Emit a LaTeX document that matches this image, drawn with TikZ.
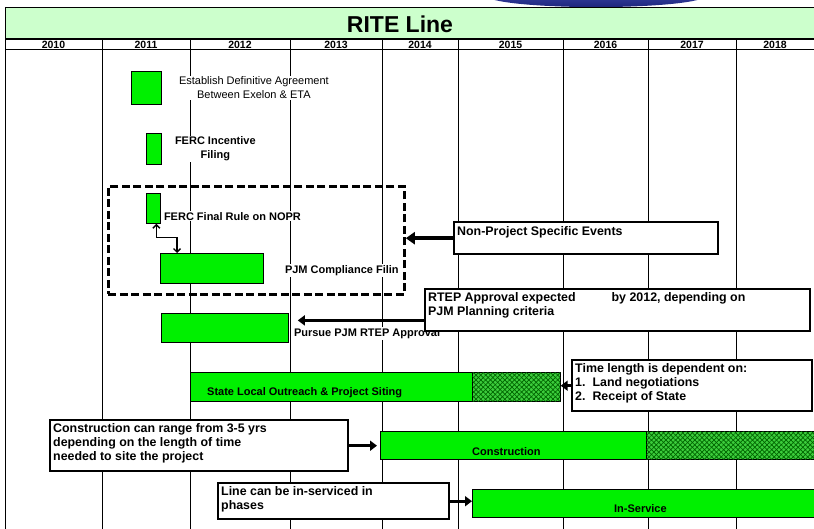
\documentclass[tikz,border=0pt]{standalone}
\usepackage{fontspec}
\setmainfont{Liberation Sans}
\usetikzlibrary{positioning,arrows.meta,patterns.meta}
\definecolor{bargreen}{RGB}{0,240,0}
\definecolor{titlegreen}{RGB}{204,255,204}
\definecolor{hatchbg}{RGB}{60,205,60}
\definecolor{hatchfg}{RGB}{0,100,0}
\definecolor{logoblue}{RGB}{30,38,125}
\definecolor{logolight}{RGB}{70,85,185}
\newcommand{\titlefont}{\fontsize{23}{26}\selectfont\bfseries}
\newcommand{\yearfont}{\fontsize{10.5}{12}\selectfont\bfseries}
\newcommand{\labfont}{\fontsize{11}{14}\selectfont\bfseries}
\newcommand{\regfont}{\fontsize{11}{14}\selectfont}
\newcommand{\boxfont}{\fontsize{12.4}{14.4}\selectfont\bfseries}

\begin{document}
\begin{tikzpicture}[x=1pt,y=-1pt,
    bar/.style={draw,fill=bargreen,line width=0.8pt,inner sep=0pt,anchor=north west},
    hatchbar/.style={draw,line width=0.6pt,inner sep=0pt,anchor=north west,
        preaction={fill=hatchbg},
        pattern={Lines[angle=45,distance=3.4pt,line width=0.7pt]},pattern color=hatchfg,
        postaction={pattern={Lines[angle=-45,distance=3.4pt,line width=0.7pt]},pattern color=hatchfg}},
    notebox/.style={draw,fill=white,line width=2.4pt,inner sep=0pt,anchor=north west},
    notetext/.style={anchor=north west,inner sep=1pt,align=left,font=\boxfont},
    dashframe/.style={draw,line width=2.8pt,dash pattern=on 8pt off 3.5pt,inner sep=0pt,anchor=north west},
    evlabel/.style={fill=white,inner sep=1pt,font=\labfont},
    barlabel/.style={inner sep=0pt,font=\labfont},
    bigarrow/.style={line width=2.8pt,-{Triangle[length=7pt,width=10pt]}},
    gridline/.style={line width=0.8pt}
    ]
    \useasboundingbox (0,0) rectangle (814,529);
    \clip (0,0) rectangle (814,529);

    % logo edge and grid
    \shade[top color=logolight,bottom color=logoblue] (596,-4.5) ellipse [x radius=110pt,y radius=11.6pt];
    \draw[gridline] (5,7) -- (5,529);
    \foreach \gx in {102,190,290,382,458,563,648,736}
        \draw[gridline] (\gx,39) -- (\gx,529);

    % header
    \node[draw,fill=titlegreen,line width=1pt,minimum width=812pt,minimum height=32pt,inner sep=0pt,anchor=north west] (title) at (5,7) {};
    \node[font=\titlefont] (titletxt) at (400,24) {RITE Line};
    \draw[line width=1pt] (5,39) rectangle (816,50);
    \foreach \yr/\cx in {2010/53.5,2011/146,2012/240,2013/336,2014/420,2015/510.5,2016/605.5,2017/692,2018/775}
        \node[font=\yearfont,inner sep=0pt] (y\yr) at (\cx,44.8) {\yr};

    % events
    \node[bar,minimum width=30pt,minimum height=33pt] (agree) at (131,71) {};
    \node[evlabel,font=\regfont,align=center,right=16pt of agree] (agreetxt) {Establish Definitive Agreement\\Between Exelon \& ETA};

    \node[bar,minimum width=15pt,minimum height=31pt] (ferci) at (146,133) {};
    \node[evlabel,align=center,right=12pt of ferci] (fercitxt) {FERC Incentive\\Filing};

    \node[bar,minimum width=14pt,minimum height=30pt] (fercf) at (146,193) {};
    \node[evlabel,right=2pt of fercf,yshift=-8pt] (fercftxt) {FERC Final Rule on NOPR};

    \node[bar,minimum width=103pt,minimum height=30pt] (pjmc) at (160,253) {};
    \node[evlabel,right=20pt of pjmc,yshift=-2pt] (pjmctxt) {PJM Compliance Filin};

    \node[dashframe,minimum width=296pt,minimum height=108pt] (nonproj) at (107,185) {};

    \draw[line width=1.4pt,{Straight Barb[length=3.5pt,width=7pt]}-{Straight Barb[length=3.5pt,width=7pt]}]
        ([xshift=3pt]fercf.south) -- ++(0,14) -| ([xshift=17pt]pjmc.north west);

    \node[bar,minimum width=127pt,minimum height=29pt] (pursue) at (161,313) {};
    \node[evlabel,right=4pt of pursue,yshift=-5.5pt] (pursuetxt) {Pursue PJM RTEP Approval};

    % project phases
    \node[bar,minimum width=282pt,minimum height=29pt] (siting) at (190,372) {};
    \node[hatchbar,minimum width=88pt,minimum height=29pt] (sitingx) at (472,372) {};
    \node[barlabel,anchor=west] (sitingtxt) at ([shift={(17pt,-5.5pt)}]siting.west) {State Local Outreach \& Project Siting};

    \node[bar,minimum width=266pt,minimum height=28pt] (constr) at (380,431) {};
    \node[hatchbar,minimum width=172pt,minimum height=28pt] (constrx) at (646,431) {};
    \node[barlabel] (constrtxt) at ([shift={(-7pt,-6pt)}]constr.center) {Construction};

    \node[bar,minimum width=346pt,minimum height=28pt] (insvc) at (472,489) {};
    \node[barlabel] (insvctxt) at ([shift={(-5pt,-5pt)}]insvc.center) {In-Service};

    % notes
    \node[notebox,minimum width=264pt,minimum height=32pt] (npse) at (453,221) {};
    \node[notetext] (npsetxt) at ([shift={(3pt,-4pt)}]npse.north west) {Non-Project Specific Events};

    \node[notebox,minimum width=385pt,minimum height=42pt] (rtep) at (424,288) {};
    \node[notetext] (rteptxt) at ([shift={(3pt,-3pt)}]rtep.north west) {RTEP Approval expected\hspace*{36pt}by 2012, depending on\\PJM Planning criteria};

    \node[notebox,minimum width=240pt,minimum height=51pt] (tlen) at (571,359) {};
    \node[notetext] (tlentxt) at ([shift={(3pt,-3pt)}]tlen.north west) {Time length is dependent on:\\1.\hspace{7pt}Land negotiations\\2.\hspace{7pt}Receipt of State};

    \node[notebox,minimum width=298pt,minimum height=51pt] (cnote) at (49,419) {};
    \node[notetext] (cnotetxt) at ([shift={(3pt,-3pt)}]cnote.north west) {Construction can range from 3-5 yrs\\depending on the length of time\\needed to site the project};

    \node[notebox,minimum width=231pt,minimum height=36pt] (lnote) at (217,482) {};
    \node[notetext] (lnotetxt) at ([shift={(3pt,-3pt)}]lnote.north west) {Line can be in-serviced in\\phases};

    % the arrows
    \draw[bigarrow,line width=3.6pt,-{Triangle[length=9pt,width=12pt]}] (npse.west) -- (npse.west -| nonproj.east);
    \draw[bigarrow,shorten >=9pt] ([yshift=12pt]rtep.south west) -- ([yshift=12pt]rtep.south west -| pursue.east);
    \draw[bigarrow] (tlen.west) -- (tlen.west -| sitingx.east);
    \draw[bigarrow,shorten >=3pt] (cnote.east) -- (cnote.east -| constr.west);
    \draw[bigarrow] (lnote.east) -- (lnote.east -| insvc.west);
\end{tikzpicture}
\end{document}
